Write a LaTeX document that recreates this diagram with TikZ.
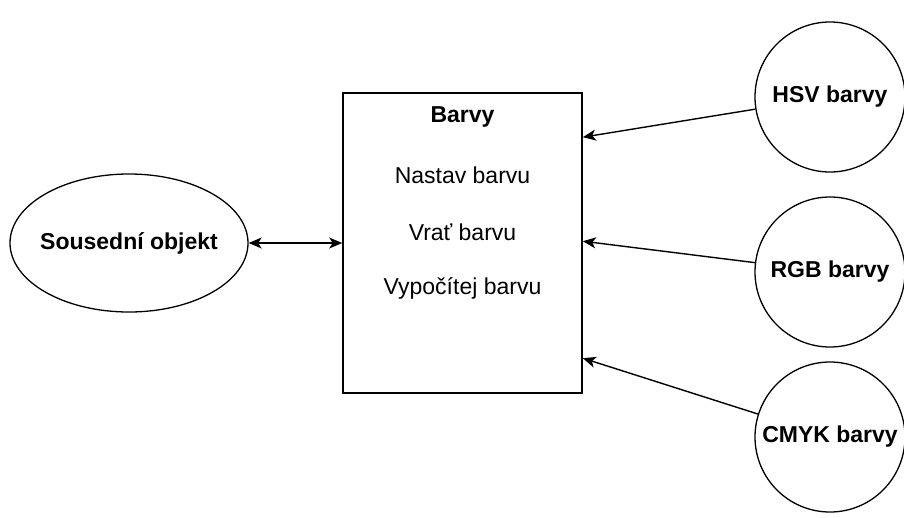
\documentclass[tikz,border=0pt]{standalone}
\usepackage{fontspec}
\setmainfont{Liberation Sans}
\usetikzlibrary{arrows.meta,shapes.geometric,calc}

\tikzset{
  base/.style={font=\fontsize{23}{28}\selectfont},
  item/.style={base, inner sep=0pt},
  boldtext/.style={item, font=\fontsize{23}{28}\selectfont\bfseries},
  boxshape/.style={draw, line width=1.6pt, minimum width=239pt, minimum height=300pt, inner sep=0pt},
  ovalshape/.style={draw, line width=1.3pt, ellipse, minimum width=238pt, minimum height=138pt, inner sep=0pt},
  roundshape/.style={base, draw, line width=1.3pt, circle, minimum size=150pt, inner sep=0pt, font=\fontsize{23}{28}\selectfont\bfseries},
  tip/.style={Stealth[length=13pt, width=11pt, inset=3.5pt]},
  link/.style={line width=1.4pt, -{Stealth[length=13pt, width=11pt, inset=3.5pt]}},
  twoway/.style={line width=1.4pt, {Stealth[length=13pt, width=11pt, inset=3.5pt]}-{Stealth[length=13pt, width=11pt, inset=3.5pt]}}
}

\begin{document}
\begin{tikzpicture}[x=1pt, y=-1pt]
  \useasboundingbox (0,0) rectangle (904,517);

  % central class box with its operations
  \node[boxshape] (box) at (462.5,243) {};
  \node[boldtext] (title) at (462.5,117) {Barvy};
  \node[item] (op1) at (462.5,175) {Nastav barvu};
  \node[item] (op2) at (462.5,232) {Vrať barvu};
  \node[item] (op3) at (462.5,288) {Vypočítej barvu};

  % neighbouring object on the left
  \node[ovalshape] (sous) at (129,243) {};
  \node[boldtext] (soustext) at (sous.center) {Sousední objekt};

  % colour models on the right
  \node[roundshape] (hsv) at (830,97) {HSV barvy};
  \node[roundshape] (rgb) at (830,272) {RGB barvy};
  \node[roundshape] (cmyk) at (830,437) {CMYK barvy};

  % arrow targets on the right side of the box
  \coordinate (tHSV) at ($(box.north east)+(0,45)$);
  \coordinate (tRGB) at ($(box.north east)+(0,149)$);
  \coordinate (tCMYK) at ($(box.north east)+(0,266)$);

  \draw[twoway] (sous) -- (box.west);
  \draw[link] (hsv) -- (tHSV);
  \draw[link] (rgb) -- (tRGB);
  \draw[link] (cmyk) -- (tCMYK);
\end{tikzpicture}
\end{document}
